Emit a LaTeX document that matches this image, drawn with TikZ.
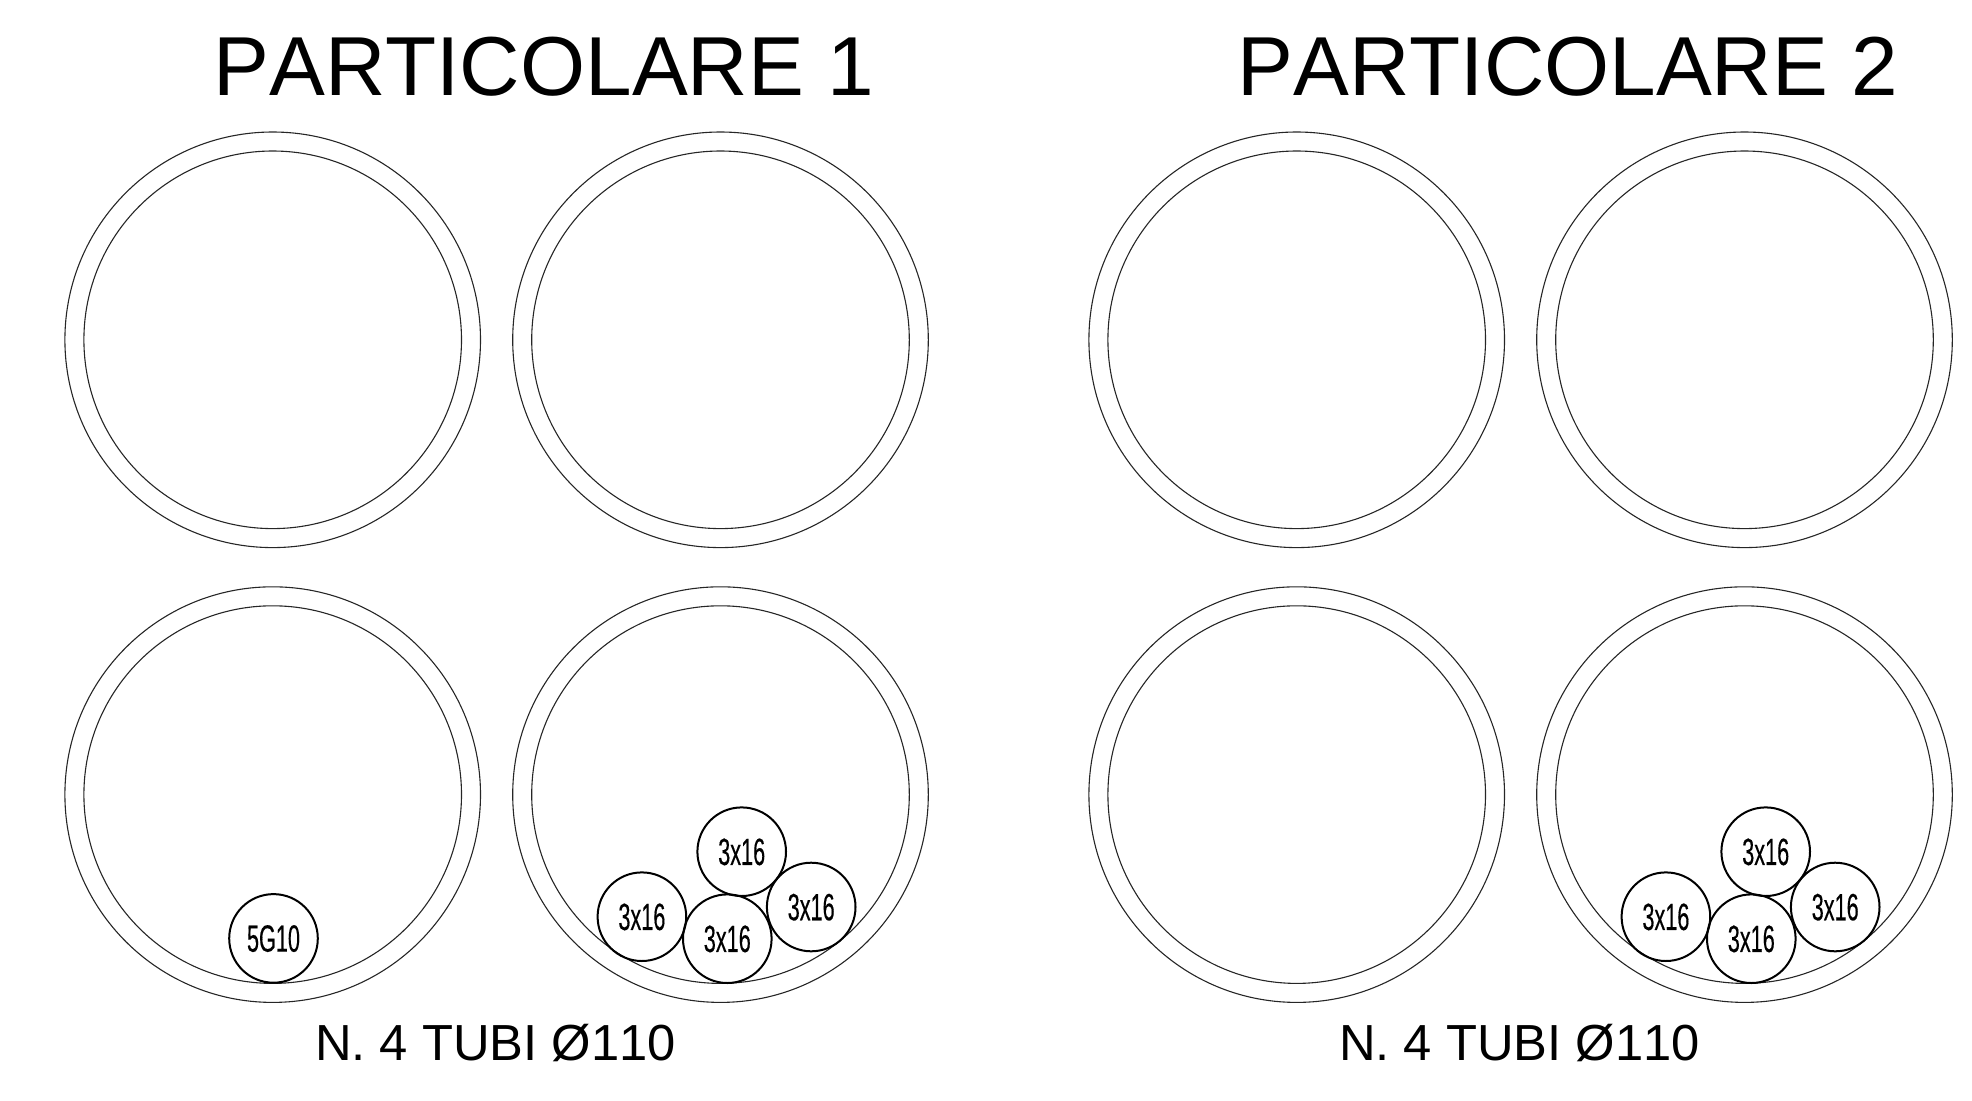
\documentclass[tikz,border=0pt]{standalone}
\usepackage{fontspec}
\setmainfont[Kerning=Off]{Liberation Sans}
\newfontfamily\narrowfont[FakeStretch=0.57,FakeBold=0.3]{Liberation Sans}
\tikzset{
  tubeouter/.style={circle,draw=black!85,line width=1.1pt,minimum size=415.6pt,inner sep=0pt,outer sep=0pt},
  tubeinner/.style={circle,draw=black!85,line width=1.1pt,minimum size=377.6pt,inner sep=0pt,outer sep=0pt},
  cable/.style={circle,draw=black,line width=2pt,minimum size=88.6pt,inner sep=0pt,outer sep=0pt,font=\narrowfont\fontsize{38}{38}\selectfont,text depth=-2.4pt},
  titletext/.style={anchor=base west,inner sep=0pt,outer sep=0pt,font=\fontsize{83.7}{84}\selectfont},
  captext/.style={anchor=base west,inner sep=0pt,outer sep=0pt,font=\fontsize{50.7}{51}\selectfont}
}
\begin{document}
\begin{tikzpicture}[x=1pt,y=-1pt]
\useasboundingbox (0,0) rectangle (1972,1100);
\node[titletext] (t1) at (213.5,95.7) {PARTICOLARE 1};
\node[titletext] (t2) at (1237.5,95.7) {PARTICOLARE 2};
\foreach \n/\x/\y in {a/272.7/339.8,b/720.5/339.8,c/272.7/794.6,d/720.5/794.6,e/1296.7/339.8,f/1744.5/339.8,g/1296.7/794.6,h/1744.5/794.6}{
  \node[tubeouter] (\n o) at (\x,\y) {};
  \node[tubeinner] (\n i) at (\x,\y) {};
}
\node[cable] (k1) at (273.5,938.4) {5G10};
\node[cable] (k2) at (741.7,851.7) {3x16};
\node[cable] (k3) at (811.2,907) {3x16};
\node[cable] (k4) at (727.3,938.7) {3x16};
\node[cable] (k5) at (641.9,916.7) {3x16};
\node[cable] (k6) at (1765.7,851.7) {3x16};
\node[cable] (k7) at (1835.2,907) {3x16};
\node[cable] (k8) at (1751.3,938.7) {3x16};
\node[cable] (k9) at (1665.9,916.7) {3x16};
\node[captext] (c1) at (315,1060) {N. 4 TUBI Ø110};
\node[captext] (c2) at (1339,1060) {N. 4 TUBI Ø110};
\end{tikzpicture}
\end{document}
